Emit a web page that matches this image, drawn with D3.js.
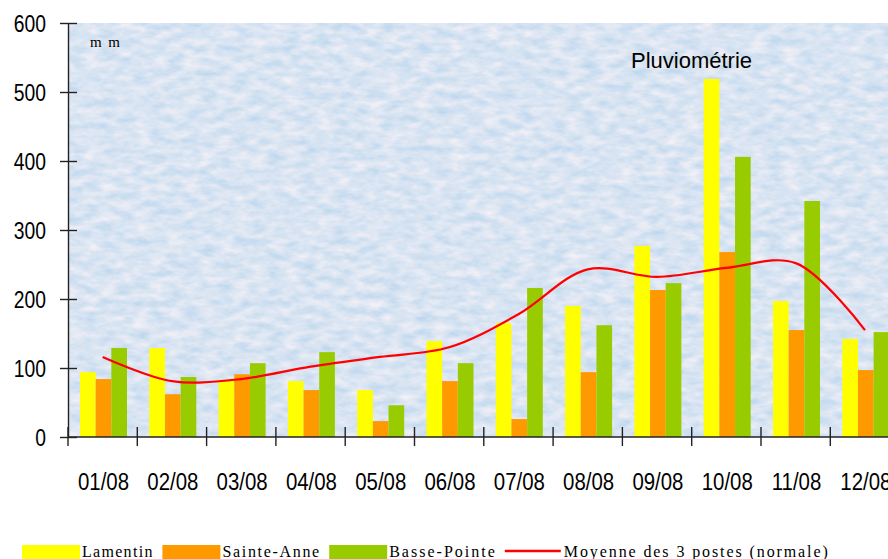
<!DOCTYPE html>
<html>
<head>
<meta charset="utf-8">
<script src="https://cdn.jsdelivr.net/npm/d3@7"></script>
<style>
  body { margin: 0; background: #fff; }
  svg { display: block; }
</style>
</head>
<body>
<svg></svg>
<script>
const categories = ["01/08", "02/08", "03/08", "04/08", "05/08", "06/08", "07/08", "08/08", "09/08", "10/08", "11/08", "12/08"]
const lamentin = [94, 129, 83, 81, 68, 139, 165, 190, 277, 519, 197, 142]
const sainteAnne = [84, 62, 91, 68, 23, 81, 26, 94, 213, 268, 155, 97]
const bassePointe = [129, 87, 107, 123, 46, 107, 216, 162, 223, 406, 342, 152]
const moyenne = [116, 81, 84, 102, 116, 130, 178, 243, 232, 245, 252, 155]
const yTicks = [0, 100, 200, 300, 400, 500, 600]

const seriesNames = ["Lamentin", "Sainte-Anne", "Basse-Pointe"]
const seriesColors = ["#ffff00", "#ff9900", "#99cc00"]
const lineName = "Moyenne des 3 postes (normale)"

let width = 888,
    height = 559,
    plotLeft = 68,
    plotTop = 23,
    plotBottom = 437,
    step = 69.3

const rows = categories.map((c, i) => ({cat: c, vals: [lamentin[i], sainteAnne[i], bassePointe[i]], avg: moyenne[i]}))

let svg = d3.select("svg")
    .attr("width", width)
    .attr("height", height)

// mottled blue background
const defs = svg.append("defs")
const f = defs.append("filter").attr("id", "paper")
    .attr("x", 0).attr("y", 0).attr("width", 1).attr("height", 1)
    .attr("color-interpolation-filters", "sRGB")
f.append("feTurbulence")
    .attr("type", "fractalNoise")
    .attr("baseFrequency", "0.06 0.13")
    .attr("numOctaves", 3)
    .attr("seed", 7)
    .attr("result", "n")
f.append("feColorMatrix")
    .attr("in", "n")
    .attr("type", "matrix")
    .attr("values", "0.28 0 0 0 0.71  0.13 0 0 0 0.83  0.04 0 0 0 0.93  0 0 0 0 1")

const x = d3.scaleBand()
    .domain(categories)
    .range([plotLeft, plotLeft + step * categories.length])
    .paddingInner(0).paddingOuter(0)

const xs = d3.scaleBand()
    .domain(seriesNames)
    .range([12, 59])

const y = d3.scaleLinear()
    .domain([0, 600])
    .range([plotBottom, plotTop])

svg.append("rect")
    .attr("x", plotLeft).attr("y", plotTop)
    .attr("width", width - plotLeft).attr("height", plotBottom - plotTop)
    .attr("fill", "#d8e4f3")
    .attr("filter", "url(#paper)")

// bars
const groups = svg.append("g")
    .selectAll("g")
    .data(rows)
    .join("g")
    .attr("transform", d => `translate(${x(d.cat)},0)`)

groups.selectAll("rect")
    .data(d => d.vals.map((v, i) => ({name: seriesNames[i], v: v, c: seriesColors[i]})))
    .join("rect")
    .attr("x", d => xs(d.name))
    .attr("width", xs.bandwidth())
    .attr("y", d => y(d.v))
    .attr("height", d => y(0) - y(d.v))
    .attr("fill", d => d.c)

// average line
const line = d3.line()
    .x(d => x(d.cat) + x.bandwidth() / 2)
    .y(d => y(d.avg))
    .curve(d3.curveCatmullRom.alpha(0.5))

svg.append("path")
    .datum(rows)
    .attr("d", line)
    .attr("fill", "none")
    .attr("stroke", "#ff0000")
    .attr("stroke-width", 2.2)

// y axis
const gy = svg.append("g")
    .attr("transform", `translate(${plotLeft},0)`)
    .call(d3.axisLeft(y).tickValues(yTicks).tickSize(0).tickPadding(0).tickFormat(d3.format("d")))
gy.select(".domain").attr("stroke", "#222").attr("stroke-width", 1.4)
gy.selectAll(".tick line").attr("x1", -8).attr("x2", 9).attr("stroke", "#222").attr("stroke-width", 1.4)
gy.selectAll(".tick text")
    .attr("font-family", "Liberation Sans, Arial, sans-serif")
    .attr("font-size", 23)
    .attr("fill", "#000")
    .attr("x", -22 / 0.84)
    .attr("dy", "0.36em")
    .attr("transform", "scale(0.84,1)")

// x axis
const gx = svg.append("g")
    .attr("transform", `translate(0,${plotBottom})`)
    .call(d3.axisBottom(x).tickSize(0).tickPadding(0))
gx.select(".domain").attr("d", `M${plotLeft},0H${width}`).attr("stroke", "#222").attr("stroke-width", 1.4)
gx.selectAll(".tick text")
    .attr("font-family", "Liberation Sans, Arial, sans-serif")
    .attr("font-size", 24)
    .attr("fill", "#000")
    .attr("x", 1)
    .attr("y", 53)
    .attr("dy", 0)
    .attr("transform", "scale(0.85,1)")

gx.append("g")
    .selectAll("line")
    .data(categories)
    .join("line")
    .attr("x1", d => x(d)).attr("x2", d => x(d))
    .attr("y1", -10).attr("y2", 9)
    .attr("stroke", "#222").attr("stroke-width", 1.4)

// titles
svg.append("text")
    .attr("x", 631).attr("y", 68)
    .attr("font-family", "Liberation Sans, Arial, sans-serif")
    .attr("font-size", 22)
    .text("Pluviométrie")

svg.append("text")
    .attr("x", 90).attr("y", 47)
    .attr("font-family", "Liberation Serif, serif")
    .attr("font-size", 15)
    .attr("textLength", 30)
    .attr("lengthAdjust", "spacing")
    .text("m m")

// legend
const legend = svg.append("g")
let lx = 22
const items = seriesNames.map((n, i) => ({name: n, color: seriesColors[i], type: "rect"}))
    .concat([{name: lineName, color: "#ff0000", type: "line"}])

items.forEach(it => {
    if (it.type === "rect") {
        legend.append("rect")
            .attr("x", lx).attr("y", 545)
            .attr("width", 58).attr("height", 16)
            .attr("fill", it.color)
    } else {
        legend.append("line")
            .attr("x1", lx).attr("x2", lx + 56)
            .attr("y1", 551).attr("y2", 551)
            .attr("stroke", it.color).attr("stroke-width", 2.5)
    }
    const tx = lx + (it.type === "rect" ? 60 : 59)
    const tw = it.name.length * 8.8
    legend.append("text")
        .attr("x", tx).attr("y", 557)
        .attr("font-family", "Liberation Serif, serif")
        .attr("font-size", 16)
        .attr("textLength", tw)
        .attr("lengthAdjust", "spacing")
        .text(it.name)
    lx = tx + tw + 10
})
</script>
</body>
</html>
